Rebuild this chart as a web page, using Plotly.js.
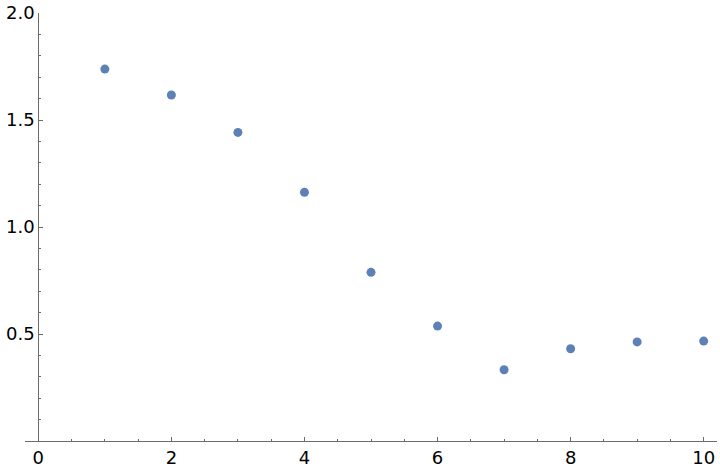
<!DOCTYPE html>
<html>
<head>
<script src="https://cdn.plot.ly/plotly-3.0.1.min.js"></script>
<style>html,body{margin:0;padding:0;background:#fff;}#chart{width:720px;height:472px;}</style>
</head>
<body>
<div id="chart"></div>
<script>
var xValues = [1, 2, 3, 4, 5, 6, 7, 8, 9, 10];
var yValues = [1.738, 1.617, 1.442, 1.162, 0.788, 0.537, 0.333, 0.431, 0.463, 0.467];
var xTickVals = [0, 2, 4, 6, 8, 10];
var xTickText = ["0", "2", "4", "6", "8", "10"];
var yTickVals = [0.5, 1.0, 1.5, 2.0];
var yTickText = ["0.5", "1.0", "1.5", "2.0"];

var axisColor = "#6b6b6b";
var trace = {
  x: xValues, y: yValues, type: "scatter", mode: "markers",
  marker: {color: "#5e81b5", size: 9}, hoverinfo: "none"
};
var layout = {
  width: 720, height: 472,
  margin: {l: 25, r: 3, t: 13, b: 31},
  paper_bgcolor: "#fff", plot_bgcolor: "#fff",
  showlegend: false,
  font: {family: "DejaVu Sans", size: 18, color: "#000"},
  xaxis: {
    range: [-0.2, 10.2], showgrid: false, zeroline: false,
    showline: true, linecolor: axisColor, linewidth: 1,
    ticks: "inside", ticklen: 4, tickcolor: axisColor, tickwidth: 1,
    tickvals: xTickVals, ticktext: xTickText,
    tickfont: {family: "DejaVu Sans", size: 18, color: "#000"},
    minor: {ticks: "inside", dtick: 0.5, tick0: 0, ticklen: 2, tickcolor: axisColor, showgrid: false}
  },
  yaxis: {
    range: [0, 2], showgrid: false, zeroline: false,
    anchor: "free", position: 13.3 / 692, side: "left",
    showline: true, linecolor: axisColor, linewidth: 1,
    ticks: "inside", ticklen: 4, tickcolor: axisColor, tickwidth: 1,
    tickvals: yTickVals, ticktext: yTickText,
    tickfont: {family: "DejaVu Sans", size: 18, color: "#000"},
    minor: {ticks: "inside", dtick: 0.1, tick0: 0, ticklen: 2, tickcolor: axisColor, showgrid: false}
  }
};
Plotly.newPlot("chart", [trace], layout, {displayModeBar: false, staticPlot: true});
</script>
</body>
</html>
